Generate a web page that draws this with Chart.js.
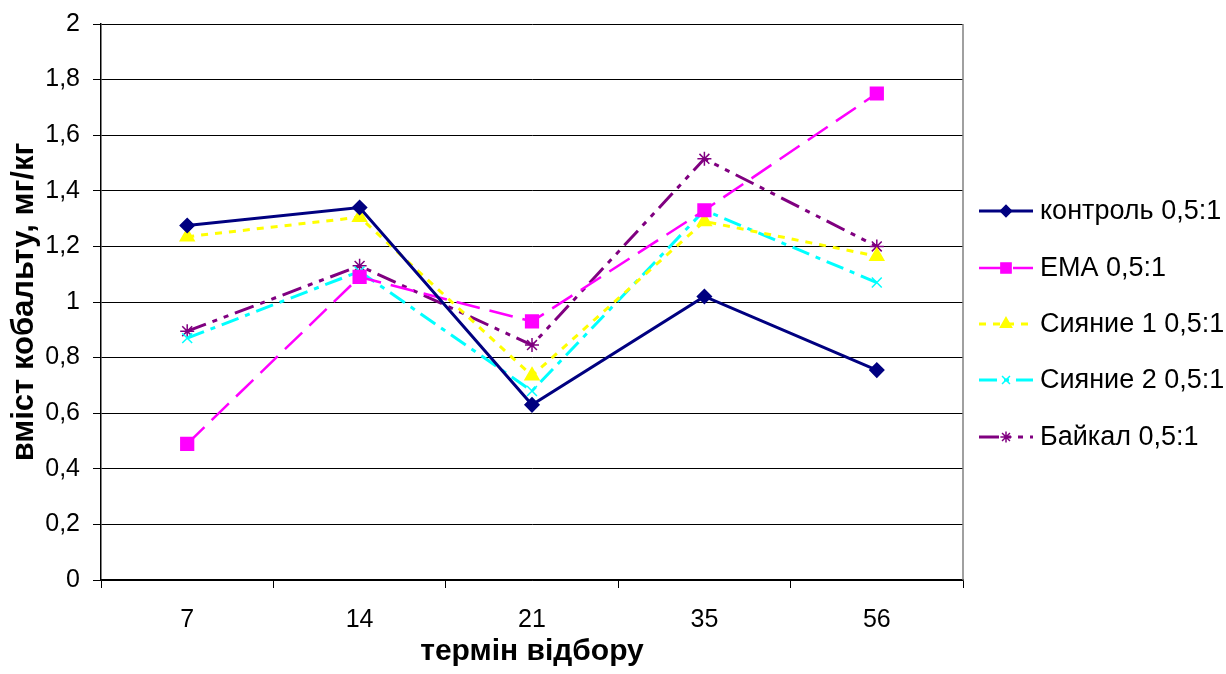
<!DOCTYPE html>
<html>
<head>
<meta charset="utf-8">
<script src="https://cdn.jsdelivr.net/npm/chart.js@4/dist/chart.umd.min.js"></script>
<style>
  body { margin: 0; background: #fff; }
  #wrap { width: 1226px; height: 674px; position: relative; }
</style>
</head>
<body>
<div id="wrap"><canvas id="cobaltChart"></canvas></div>
<script>
// Data
const days = ['7', '14', '21', '35', '56'];
const control = [1.275, 1.34, 0.63, 1.02, 0.755];
const ema = [0.49, 1.09, 0.93, 1.33, 1.75];
const siyanie1 = [1.235, 1.305, 0.735, 1.29, 1.165];
const siyanie2 = [0.87, 1.11, 0.68, 1.33, 1.07];
const baikal = [0.895, 1.13, 0.845, 1.515, 1.20];
const yTicks = [0, 0.2, 0.4, 0.6, 0.8, 1, 1.2, 1.4, 1.6, 1.8, 2];

const FONT = 'Liberation Sans, Arial, sans-serif';

const series = [
  { label: 'контроль 0,5:1', data: control, color: '#000080', dash: [], style: 'rectRot', r: 7, w: 3 },
  { label: 'ЕМА 0,5:1', data: ema, color: '#ff00ff', dash: [24, 10], style: 'rect', r: 9, w: 2.5 },
  { label: 'Сияние 1 0,5:1', data: siyanie1, color: '#ffff00', dash: [7, 7], style: 'triangle', r: 8, w: 3 },
  { label: 'Сияние 2 0,5:1', data: siyanie2, color: '#00ffff', dash: [18, 7, 5, 7], style: 'crossRot', r: 7, w: 3 },
  { label: 'Байкал 0,5:1', data: baikal, color: '#800080', dash: [20, 7, 5, 7, 5, 7], style: 'star', r: 7, w: 3 }
];

// Plot border + legend drawn by hand
const frame = {
  id: 'frame',
  afterDraw(chart) {
    const c = chart.ctx, a = chart.chartArea;
    c.save();
    c.strokeStyle = '#808080';
    c.lineWidth = 1.5;
    c.beginPath();
    c.moveTo(a.right, a.top);
    c.lineTo(a.right, a.bottom);
    c.stroke();

    const ys = [211, 268, 324, 380, 437];
    series.forEach((s, i) => {
      const y = ys[i];
      c.strokeStyle = s.color;
      c.lineWidth = s.w;
      c.setLineDash(s.dash);
      c.beginPath();
      c.moveTo(979, y);
      c.lineTo(1033, y);
      c.stroke();
      c.setLineDash([]);
      c.fillStyle = s.color;
      c.lineWidth = 1.5;
      Chart.helpers.drawPoint(c, { pointStyle: s.style, radius: s.r * 0.8, borderWidth: 1.5 }, 1006, y);
      c.fillStyle = '#000';
      c.font = '27px ' + FONT;
      c.textBaseline = 'middle';
      c.fillText(s.label, 1040, y + 1);
    });
    c.restore();
  }
};

new Chart(document.getElementById('cobaltChart'), {
  type: 'line',
  data: {
    labels: days,
    datasets: series.map(s => ({
      label: s.label,
      data: s.data,
      borderColor: s.color,
      backgroundColor: s.color,
      borderWidth: s.w,
      borderDash: s.dash,
      tension: 0,
      fill: false,
      pointStyle: s.style,
      pointRadius: s.r,
      pointBorderWidth: 1.5,
      pointBorderColor: s.color,
      pointBackgroundColor: s.color
    }))
  },
  options: {
    responsive: true,
    maintainAspectRatio: false,
    animation: false,
    layout: { padding: { top: 24, right: 263, left: 0, bottom: 0 } },
    plugins: { legend: { display: false }, tooltip: { enabled: false } },
    scales: {
      x: {
        offset: true,
        grid: { offset: true, drawOnChartArea: false, tickLength: 8, color: '#000' },
        border: { color: '#000', width: 1.5 },
        ticks: { color: '#000', font: { family: FONT, size: 25 }, padding: 17 },
        title: { display: true, text: 'термін відбору', color: '#000', font: { family: FONT, size: 30, weight: 'bold' }, padding: { top: 3 } },
        afterFit: s => { s.height = 94; }
      },
      y: {
        min: 0,
        max: 2,
        afterBuildTicks: s => { s.ticks = yTicks.map(v => ({ value: v })); },
        grid: { color: '#000', tickLength: 8, lineWidth: 1 },
        border: { color: '#000', width: 1.5 },
        ticks: {
          color: '#000',
          font: { family: FONT, size: 25 },
          padding: 13,
          callback: v => String(Math.round(v * 10) / 10).replace('.', ',')
        },
        title: { display: true, text: 'вміст кобальту, мг/кг', color: '#000', font: { family: FONT, size: 31, weight: 'bold' }, padding: { top: 6 } },
        afterFit: s => { s.width = 101; s.paddingTop = 0; s.paddingBottom = 0; }
      }
    }
  },
  plugins: [frame]
});
</script>
</body>
</html>
